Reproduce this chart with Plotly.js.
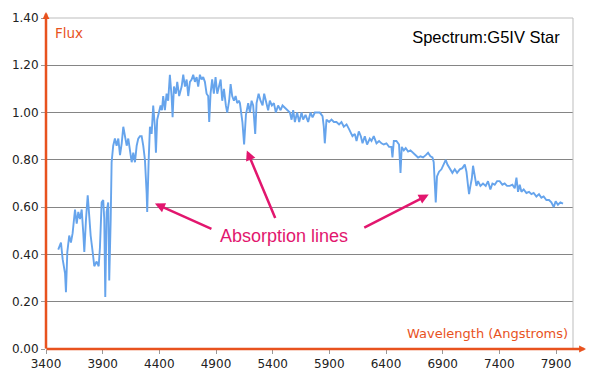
<!DOCTYPE html>
<html><head><meta charset="utf-8">
<script src="https://cdn.plot.ly/plotly-3.0.1.min.js"></script>
<style>html,body{margin:0;padding:0;background:#fff}#chart{width:600px;height:383px}</style>
</head><body><div id="chart"></div>
<script>
const wavelength = [
3508,3532,3547,3568,3576,3588,3605,3620,3635,3647,
3656,3671,3685,3700,3715,3729,3738,3753,3768,3782,
3794,3812,3826,3847,3865,3876,3891,3905,3914,3923,
3935,3949,3958,3971,3979,3993,4008,4023,4038,4053,
4068,4082,4097,4112,4126,4141,4156,4170,4185,4200,
4214,4229,4244,4258,4273,4288,4293,4306,4317,4332,
4346,4361,4370,4381,4399,4411,4423,4434,4449,4464,
4478,4493,4508,4517,4529,4546,4558,4575,4597,4611,
4626,4641,4655,4670,4685,4699,4714,4729,4743,4758,
4773,4787,4802,4817,4831,4840,4852,4866,4881,4896,
4911,4926,4941,4955,4970,4987,4999,5016,5029,5043,
5058,5073,5087,5102,5111,5133,5148,5164,5184,5199,
5214,5228,5246,5258,5276,5293,5311,5325,5340,5360,
5375,5393,5411,5428,5448,5470,5487,5508,5528,5552,
5567,5581,5596,5616,5634,5655,5669,5690,5713,5734,
5752,5772,5792,5816,5840,5851,5860,5875,5898,5919,
5940,5963,5986,6007,6028,6052,6074,6104,6125,6140,
6160,6178,6193,6213,6233,6257,6272,6292,6316,6339,
6360,6380,6404,6427,6448,6457,6469,6492,6515,6528,
6539,6557,6574,6595,6616,6639,6660,6683,6704,6727,
6751,6771,6792,6810,6821,6830,6839,6850,6868,6889,
6910,6927,6942,6962,6986,7007,7027,7051,7074,7095,
7110,7124,7133,7145,7157,7168,7183,7198,7212,7233,
7256,7280,7300,7321,7339,7359,7380,7403,7427,7447,
7468,7492,7515,7536,7551,7565,7580,7595,7615,7639,
7662,7683,7703,7727,7750,7771,7791,7815,7838,7859,
7880,7897,7917,7939,7962
];
const flux = [
0.42,0.45,0.38,0.32,0.24,0.41,0.48,0.45,0.49,0.55,
0.59,0.53,0.58,0.55,0.59,0.49,0.41,0.55,0.65,0.56,
0.48,0.41,0.35,0.37,0.35,0.43,0.62,0.63,0.55,0.22,
0.58,0.62,0.29,0.55,0.79,0.86,0.89,0.86,0.89,0.82,
0.87,0.94,0.89,0.86,0.89,0.83,0.79,0.83,0.79,0.86,
0.89,0.90,0.90,0.86,0.80,0.66,0.58,0.80,0.94,0.91,
1.03,0.94,0.83,0.97,1.00,1.03,1.01,1.07,1.01,1.08,
1.05,1.16,1.07,0.98,1.11,1.08,1.13,1.07,1.11,1.16,
1.11,1.14,1.07,1.13,1.14,1.16,1.13,1.15,1.11,1.16,
1.14,1.15,1.13,1.08,1.07,0.96,1.08,1.14,1.08,1.15,
1.08,1.11,1.14,1.05,1.10,1.03,1.00,1.05,1.12,1.07,
1.05,1.07,1.04,1.05,1.04,0.96,0.865,0.99,1.04,1.00,
1.05,1.03,0.91,1.04,1.08,1.05,1.03,1.08,1.05,1.01,
1.05,1.03,1.04,1.00,1.03,1.01,1.03,1.02,1.01,1.00,
0.97,1.01,0.96,1.00,0.96,1.00,0.97,0.99,0.96,1.00,
0.98,1.00,1.00,1.00,0.985,0.94,0.87,0.97,0.96,0.97,
0.96,0.96,0.95,0.96,0.94,0.95,0.93,0.90,0.91,0.88,
0.92,0.90,0.87,0.90,0.865,0.89,0.88,0.90,0.87,0.88,
0.87,0.865,0.87,0.855,0.855,0.81,0.88,0.88,0.865,0.745,
0.855,0.84,0.85,0.835,0.84,0.83,0.82,0.81,0.815,0.81,
0.82,0.83,0.815,0.81,0.79,0.70,0.62,0.73,0.75,0.76,
0.78,0.80,0.78,0.765,0.745,0.76,0.745,0.76,0.765,0.78,
0.75,0.69,0.655,0.69,0.72,0.775,0.73,0.69,0.71,0.69,
0.70,0.69,0.71,0.675,0.70,0.695,0.71,0.71,0.695,0.70,
0.69,0.69,0.695,0.68,0.725,0.665,0.695,0.665,0.675,0.66,
0.665,0.655,0.66,0.645,0.655,0.64,0.645,0.63,0.63,0.62,
0.60,0.625,0.61,0.62,0.615
];
const xTicks = [3400,3900,4400,4900,5400,5900,6400,6900,7400,7900];
const yTicks = [0,0.2,0.4,0.6,0.8,1.0,1.2,1.4];
const chartTitle = 'Spectrum:G5IV Star';
const xTitle = 'Wavelength (Angstroms)';
const yTitle = 'Flux';
const calloutText = 'Absorption lines';

const axisColor = '#e8521e';
const pink = '#e2166e';

const trace = {
  x: wavelength, y: flux, type: 'scatter', mode: 'lines',
  line: {color: '#66a4ec', width: 1.9}, hoverinfo: 'skip', showlegend: false
};

function arrowTo(hx, hy, tx, ty) {
  return {x: hx, y: hy, xref: 'x', yref: 'y', ax: tx, ay: ty, axref: 'x', ayref: 'y',
    text: '', showarrow: true, arrowhead: 2, arrowsize: 0.8, arrowwidth: 2.5, arrowcolor: pink, standoff: 0, startstandoff: 0};
}

const layout = {
  width: 600, height: 383,
  margin: {l: 46, r: 27, t: 18, b: 33.5},
  paper_bgcolor: '#fff', plot_bgcolor: '#fff',
  showlegend: false,
  title: {text: chartTitle, x: 0.933, xref: 'container', xanchor: 'right', y: 0.903, yanchor: 'middle',
    font: {family: 'Liberation Sans, Arial, sans-serif', size: 16.5, color: '#000'}},
  xaxis: {range: [3400, 8050], tickvals: xTicks, ticktext: xTicks.map(String),
    showgrid: false, zeroline: false, showline: false,
    ticks: 'outside', ticklen: 4, tickcolor: '#999', tickwidth: 1,
    tickfont: {family: 'DejaVu Sans, sans-serif', size: 12, color: '#222'}},
  yaxis: {range: [0, 1.4], tickvals: yTicks, ticktext: yTicks.map(v => v.toFixed(2)),
    showgrid: true, gridcolor: '#858585', gridwidth: 1, zeroline: false, showline: false,
    ticks: 'outside', ticklen: 4, tickcolor: '#999', tickwidth: 1,
    tickfont: {family: 'DejaVu Sans, sans-serif', size: 12, color: '#222'}},
  shapes: [
    {type: 'rect', xref: 'paper', yref: 'paper', x0: 0, x1: 1, y0: 0, y1: 1,
     line: {color: '#bdbdbd', width: 1}, layer: 'above'}
  ],
  annotations: [
    {xref: 'paper', yref: 'paper', x: 0, y: 1.018, ax: 0, ay: 338, axref: 'pixel', ayref: 'pixel',
     text: '', showarrow: true, arrowhead: 2, arrowsize: 0.55, arrowwidth: 2.5, arrowcolor: axisColor, standoff: 0},
    {xref: 'paper', yref: 'paper', x: 1.0247, y: 0, ax: -541, ay: 0, axref: 'pixel', ayref: 'pixel',
     text: '', showarrow: true, arrowhead: 2, arrowsize: 0.55, arrowwidth: 2.5, arrowcolor: axisColor, standoff: 0},
    {xref: 'paper', yref: 'paper', x: 0.0133, y: 0.955, xanchor: 'left', yanchor: 'middle', showarrow: false,
     text: yTitle, font: {family: 'DejaVu Sans, sans-serif', size: 13.5, color: axisColor}},
    {xref: 'paper', yref: 'paper', x: 0.994, y: 0.047, xanchor: 'right', yanchor: 'middle', showarrow: false,
     text: xTitle, font: {family: 'DejaVu Sans, sans-serif', size: 13, color: axisColor}},
    {xref: 'x', yref: 'y', x: 5500, y: 0.48, xanchor: 'center', yanchor: 'middle', showarrow: false,
     text: calloutText, font: {family: 'Liberation Sans, Arial, sans-serif', size: 18, color: pink}},
    arrowTo(4361, 0.615, 4873, 0.505),
    arrowTo(5172, 0.84, 5428, 0.548),
    arrowTo(6777, 0.653, 6195, 0.51)
  ]
};

Plotly.newPlot('chart', [trace], layout, {staticPlot: true, displayModeBar: false});
</script>
</body></html>
